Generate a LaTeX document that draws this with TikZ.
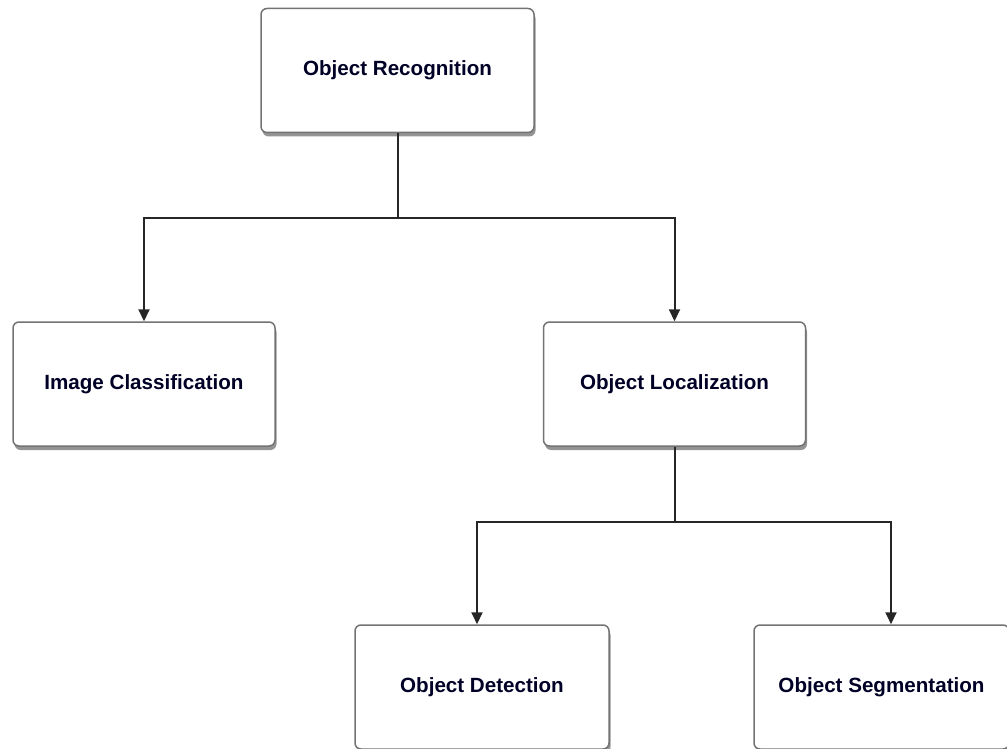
\documentclass[tikz,border=0pt]{standalone}
\usepackage{fontspec}
\setmainfont{Liberation Sans}
\usetikzlibrary{arrows.meta,shadows}

\begin{document}
\begin{tikzpicture}
		[x=1pt,y=-1pt,
		box/.style={draw=black!55,line width=1.5pt,fill=white,rounded corners=6pt,
			minimum width=262pt,minimum height=124pt,font=\bfseries\fontsize{20.6}{24}\selectfont,
			text=black!85!blue,drop shadow={shadow xshift=1.5pt,shadow yshift=-4pt,opacity=0.6,fill=black!70}},
		link/.style={draw=black!85,line width=2pt},
		arr/.style={link,-{Triangle[length=12pt,width=11pt]}}]
		\useasboundingbox (0,0) rectangle (1007,749);
		
		\node[box,minimum width=273pt] (Rec) at (397.5,70.5) {Object Recognition};
		\node[box] (Cls) at (144,384) {Image Classification};
		\node[box] (Loc) at (674.5,384) {Object Localization};
		\node[box,minimum width=254pt] (Det) at (482,687) {Object Detection};
		\node[box,minimum width=255pt] (Seg) at (881.5,687) {Object Segmentation};
		
		\draw[link] (Rec.south) -- ++(0,85) coordinate(j1);
		\draw[arr] (j1) -| (Cls.north);
		\draw[arr] (j1) -| (Loc.north);
		
		\draw[link] (Loc.south) -- ++(0,75) coordinate(j2);
		\draw[arr] (j2) -| ([xshift=-5pt]Det.north);
		\draw[arr] (j2) -| ([xshift=9.5pt]Seg.north);
		
\end{tikzpicture}
\end{document}
